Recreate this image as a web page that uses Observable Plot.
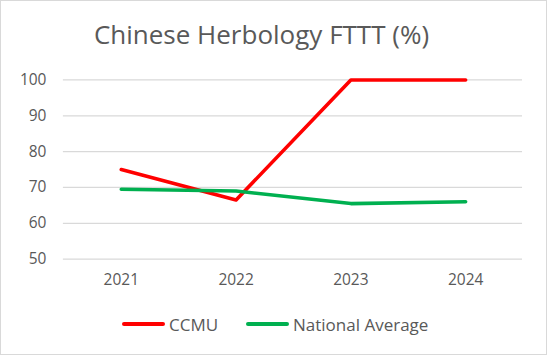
<!DOCTYPE html>
<html>
<head>
<meta charset="utf-8">
<script src="https://cdn.jsdelivr.net/npm/d3@7"></script>
<script src="https://cdn.jsdelivr.net/npm/@observablehq/plot@0.6"></script>
<style>
  html, body { margin: 0; padding: 0; background: #fff; }
  #chart { position: relative; width: 547px; height: 355px; box-sizing: border-box; border: 1px solid #d9d9d9; background: #fff; font-family: "Open Sans", sans-serif; overflow: hidden; }
  #title { position: absolute; left: -12px; top: 15px; width: 545px; text-align: center; font-size: 26px; color: #595959; line-height: 36px; }
  #plot { position: absolute; left: -1px; top: 58px; }
  #legend { position: absolute; left: 0; top: 311px; width: 545px; height: 24px; font-size: 17px; color: #595959; }
  .item { position: absolute; top: 0; display: flex; align-items: center; height: 24px; }
  .swatch { width: 43px; height: 4px; border-radius: 2px; margin-right: 4px; }
</style>
</head>
<body>
<div id="chart">
  <div id="title">Chinese Herbology FTTT (%)</div>
  <div id="plot"></div>
  <div id="legend"></div>
</div>
<script>
const years = ["2021", "2022", "2023", "2024"];
const ccmu = [75, 66.5, 100, 100];
const national = [69.5, 69, 65.5, 66];
const seriesNames = ["CCMU", "National Average"];
const seriesColors = ["#ff0000", "#00b050"];
const yTicks = [50, 60, 70, 80, 90, 100];

const data = [];
years.forEach((y, i) => {
  data.push({year: y, value: ccmu[i], series: seriesNames[0]});
  data.push({year: y, value: national[i], series: seriesNames[1]});
});

const chart = Plot.plot({
  width: 547,
  height: 242,
  marginTop: 20.5,
  marginBottom: 42,
  marginLeft: 63,
  marginRight: 24,
  style: {fontFamily: "Open Sans, sans-serif", fontSize: "15.5px", color: "#595959", background: "transparent"},
  x: {type: "point", domain: years, padding: 0.5, label: null},
  y: {domain: [50, 100], ticks: yTicks, label: null},
  color: {domain: seriesNames, range: seriesColors},
  marks: [
    Plot.ruleY(yTicks, {stroke: "#d9d9d9", strokeWidth: 1.3}),
    Plot.axisY({ticks: yTicks, tickSize: 0, tickPadding: 17, label: null, fontSize: 15.5}),
    Plot.axisX({tickSize: 0, tickPadding: 15, label: null, fontSize: 15.5}),
    Plot.line(data, {x: "year", y: "value", z: "series", stroke: "series", strokeWidth: 3.6, strokeLinecap: "round", strokeLinejoin: "round"})
  ]
});
document.getElementById("plot").appendChild(chart);

const legend = document.getElementById("legend");
const lefts = [121, 245];
seriesNames.forEach((name, i) => {
  const item = document.createElement("div");
  item.className = "item";
  item.style.left = lefts[i] + "px";
  const sw = document.createElement("div");
  sw.className = "swatch";
  sw.style.background = seriesColors[i];
  const label = document.createElement("span");
  label.textContent = name;
  item.appendChild(sw);
  item.appendChild(label);
  legend.appendChild(item);
});
</script>
</body>
</html>
